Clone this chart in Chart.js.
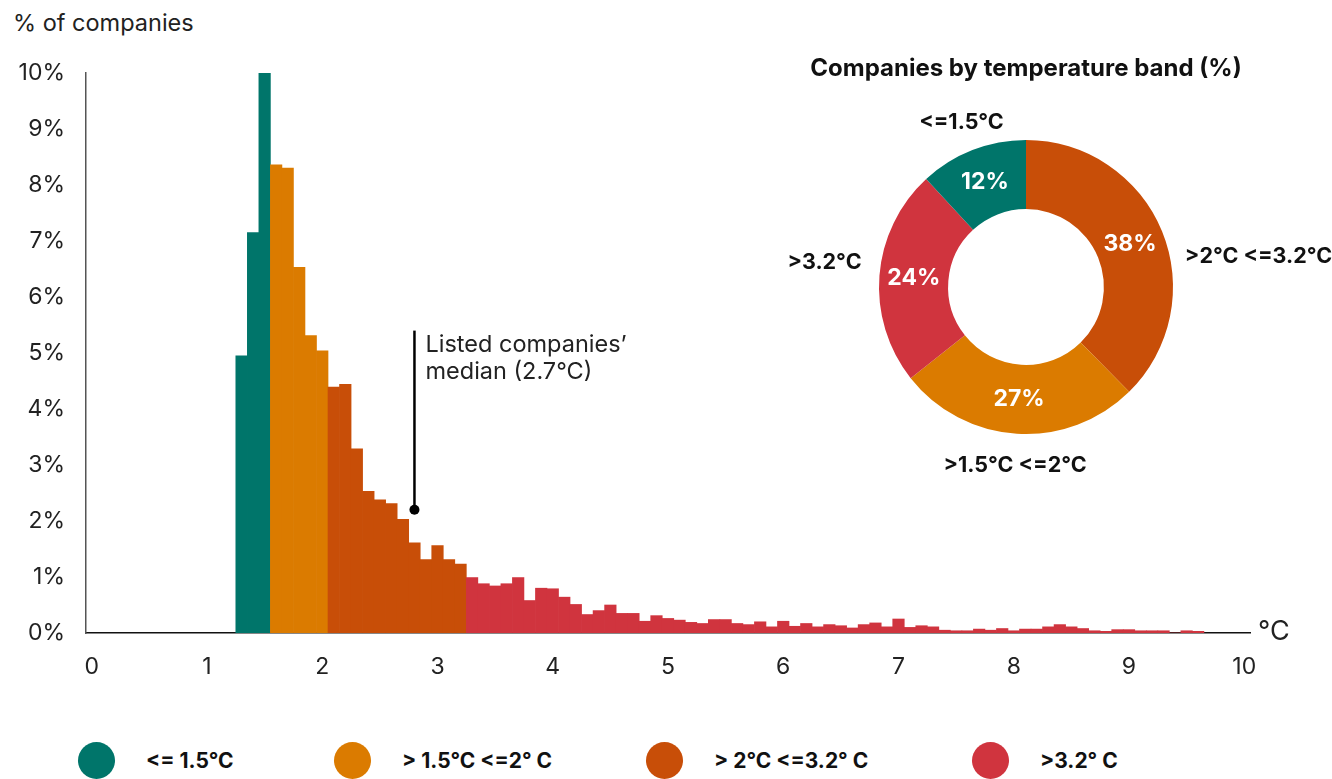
<!DOCTYPE html>
<html>
<head>
<meta charset="utf-8">
<script src="https://cdn.jsdelivr.net/npm/chart.js@4.4.1/dist/chart.umd.min.js"></script>
<style>
  body { margin: 0; background: #fff; width: 1332px; height: 779px; overflow: hidden; position: relative; font-family: Inter, "Noto Sans", sans-serif; color: #222; }
  #yTitle { position: absolute; left: 13px; top: 8px; font-size: 23.5px; }
  #histWrap { position: absolute; left: 0; top: 0; width: 1332px; height: 700px; }
  #donutWrap { position: absolute; left: 780px; top: 40px; width: 552px; height: 440px; }
  .item { position: absolute; top: 742px; height: 37px; display: flex; align-items: center; }
  .dot { width: 37px; height: 37px; border-radius: 50%; margin-right: 31px; }
  .lbl { font-family: Inter, sans-serif; font-weight: bold; font-size: 21px; color: #111; white-space: nowrap; }
</style>
</head>
<body>
<div id="yTitle">% of companies</div>
<div id="histWrap"><canvas id="hist" width="1332" height="700"></canvas></div>
<div id="donutWrap"><canvas id="donut" width="552" height="440"></canvas></div>
<div id="legend"></div>
<script>
// histogram: bin centres (°C) and share of companies (%)
const tempBins = [1.3, 1.4, 1.5, 1.6, 1.7, 1.8, 1.9, 2.0, 2.1, 2.2, 2.3, 2.4, 2.5, 2.6, 2.7, 2.8, 2.9, 3.0, 3.1, 3.2,
  3.3, 3.4, 3.5, 3.6, 3.7, 3.8, 3.9, 4.0, 4.1, 4.2, 4.3, 4.4, 4.5, 4.6, 4.7, 4.8, 4.9, 5.0, 5.1, 5.2,
  5.3, 5.4, 5.5, 5.6, 5.7, 5.8, 5.9, 6.0, 6.1, 6.2, 6.3, 6.4, 6.5, 6.6, 6.7, 6.8, 6.9, 7.0, 7.1, 7.2,
  7.3, 7.4, 7.5, 7.6, 7.7, 7.8, 7.9, 8.0, 8.1, 8.2, 8.3, 8.4, 8.5, 8.6, 8.7, 8.8, 8.9, 9.0, 9.1, 9.2,
  9.3, 9.4, 9.5, 9.6];
const sharePct = [4.95, 7.15, 10.0, 8.36, 8.30, 6.53, 5.31, 5.04, 4.39, 4.44, 3.29, 2.53, 2.38, 2.31, 2.03, 1.61, 1.31, 1.56, 1.31, 1.23,
  0.99, 0.88, 0.84, 0.88, 0.99, 0.58, 0.80, 0.79, 0.64, 0.51, 0.33, 0.40, 0.50, 0.35, 0.35, 0.21, 0.31, 0.26, 0.23, 0.19,
  0.17, 0.24, 0.24, 0.17, 0.15, 0.20, 0.11, 0.21, 0.12, 0.17, 0.11, 0.15, 0.13, 0.09, 0.15, 0.18, 0.11, 0.25, 0.10, 0.13,
  0.11, 0.05, 0.04, 0.04, 0.07, 0.05, 0.08, 0.04, 0.07, 0.07, 0.11, 0.15, 0.11, 0.08, 0.04, 0.03, 0.06, 0.06, 0.04, 0.04,
  0.04, 0, 0.04, 0.03];
const xTicks = [0, 1, 2, 3, 4, 5, 6, 7, 8, 9, 10];
const yTicks = [0, 1, 2, 3, 4, 5, 6, 7, 8, 9, 10];

// temperature bands
const bandLimits = [1.5, 2.0, 3.2];
const bandColors = ['#00756a', '#db7b00', '#c84e08', '#d0343e'];
const legendLabels = ['<= 1.5°C', '> 1.5°C <=2° C', '> 2°C <=3.2° C', '>3.2° C'];

// donut, clockwise from the top
const donutLabels = ['>2°C <=3.2°C', '>1.5°C <=2°C', '>3.2°C', '<=1.5°C'];
const donutShares = [38, 27, 24, 12];
const donutBand = [2, 1, 3, 0];

// median marker
const medianX = 2.8, medianDotY = 2.2, medianTopY = 5.4;

function bandOf(t) {
  const i = bandLimits.findIndex(l => t <= l + 1e-9);
  return i < 0 ? 3 : i;
}

const annot = {
  id: 'annot',
  afterDatasetsDraw(chart) {
    const { ctx, scales: { x, y }, chartArea } = chart;
    const px = x.getPixelForValue(medianX);
    ctx.save();
    ctx.strokeStyle = '#000';
    ctx.lineWidth = 2.5;
    ctx.beginPath();
    ctx.moveTo(px, y.getPixelForValue(medianTopY));
    ctx.lineTo(px, y.getPixelForValue(medianDotY));
    ctx.stroke();
    ctx.fillStyle = '#000';
    ctx.beginPath();
    ctx.arc(px, y.getPixelForValue(medianDotY), 5, 0, Math.PI * 2);
    ctx.fill();
    ctx.fillStyle = '#222';
    ctx.font = '23.5px Inter';
    ctx.textBaseline = 'middle';
    ctx.textAlign = 'left';
    const ty = y.getPixelForValue(medianTopY);
    ctx.fillText('Listed companies\u2019', px + 11, ty + 14);
    ctx.fillText('median (2.7°C)', px + 11, ty + 41);
    ctx.font = '27px Inter';
    ctx.fillText('°C', chartArea.right + 8, chartArea.bottom - 1);
    ctx.restore();
  }
};

new Chart(document.getElementById('hist'), {
  type: 'bar',
  data: {
    datasets: [{
      data: tempBins.map((t, i) => ({ x: t, y: sharePct[i] })),
      backgroundColor: tempBins.map(t => bandColors[bandOf(t)]),
      borderWidth: 0,
      categoryPercentage: 1,
      barPercentage: 1
    }]
  },
  options: {
    animation: false,
    responsive: false,
    layout: { padding: { top: 73, right: 82, bottom: 17, left: 0 } },
    plugins: { legend: { display: false }, tooltip: { enabled: false } },
    scales: {
      x: {
        type: 'linear', min: -0.05, max: 10.05, offset: false,
        grid: { display: false, offset: false },
        border: { color: '#111', width: 1.5 },
        afterBuildTicks: s => { s.ticks = xTicks.map(v => ({ value: v })); },
        afterFit: s => { s.height = 50; },
        ticks: { padding: 12, color: '#222', font: { family: 'Inter', size: 23 }, maxRotation: 0, autoSkip: false }
      },
      y: {
        min: 0, max: 10,
        grid: { display: false },
        border: { color: '#555', width: 1.5 },
        afterBuildTicks: s => { s.ticks = yTicks.map(v => ({ value: v })); },
        afterFit: s => { s.width = 86; },
        ticks: { padding: 13, color: '#222', font: { family: 'Inter', size: 23 }, callback: v => v + '%' }
      }
    }
  },
  plugins: [annot]
});

const donutText = {
  id: 'donutText',
  afterDatasetsDraw(chart) {
    const ctx = chart.ctx;
    const arcs = chart.getDatasetMeta(0).data;
    const nudges = [[-5, 37], [0, 2], [12, -11], [0, 0]];
    ctx.save();
    ctx.textBaseline = 'middle';
    arcs.forEach((a, i) => {
      const p = a.getProps(['x', 'y', 'startAngle', 'endAngle', 'innerRadius', 'outerRadius']);
      const mid = (p.startAngle + p.endAngle) / 2;
      const rIn = (p.innerRadius + p.outerRadius) / 2;
      ctx.fillStyle = '#fff';
      ctx.font = 'bold 23px Inter';
      ctx.textAlign = 'center';
      ctx.fillText(donutShares[i] + '%', p.x + rIn * Math.cos(mid), p.y + rIn * Math.sin(mid));
      const rOut = p.outerRadius + 30;
      const c = Math.cos(mid);
      ctx.textAlign = c > 0.5 ? 'left' : (c < -0.5 ? 'right' : 'center');
      ctx.fillStyle = '#111';
      ctx.font = 'bold 21.5px Inter';
      ctx.fillText(donutLabels[i], p.x + rOut * c + nudges[i][0], p.y + rOut * Math.sin(mid) + nudges[i][1]);
    });
    const ca = chart.chartArea;
    ctx.font = 'bold 24px Inter';
    ctx.textAlign = 'center';
    ctx.fillText('Companies by temperature band (%)', (ca.left + ca.right) / 2, 29);
    ctx.restore();
  }
};

new Chart(document.getElementById('donut'), {
  type: 'doughnut',
  data: {
    labels: donutLabels,
    datasets: [{ data: donutShares, backgroundColor: donutBand.map(b => bandColors[b]), borderWidth: 0, hoverOffset: 0 }]
  },
  options: {
    animation: false,
    responsive: false,
    cutout: '53%',
    layout: { padding: { left: 99, right: 159, top: 100, bottom: 46 } },
    plugins: { legend: { display: false }, tooltip: { enabled: false } }
  },
  plugins: [donutText]
});

// legend row
const legendLeft = [78, 334, 646, 972];
const legend = document.getElementById('legend');
legendLabels.forEach((txt, i) => {
  const d = document.createElement('div');
  d.className = 'item';
  d.style.left = legendLeft[i] + 'px';
  d.innerHTML = '<div class="dot" style="background:' + bandColors[i] + '"></div><span class="lbl"></span>';
  d.querySelector('.lbl').textContent = txt;
  legend.appendChild(d);
});
</script>
</body>
</html>
